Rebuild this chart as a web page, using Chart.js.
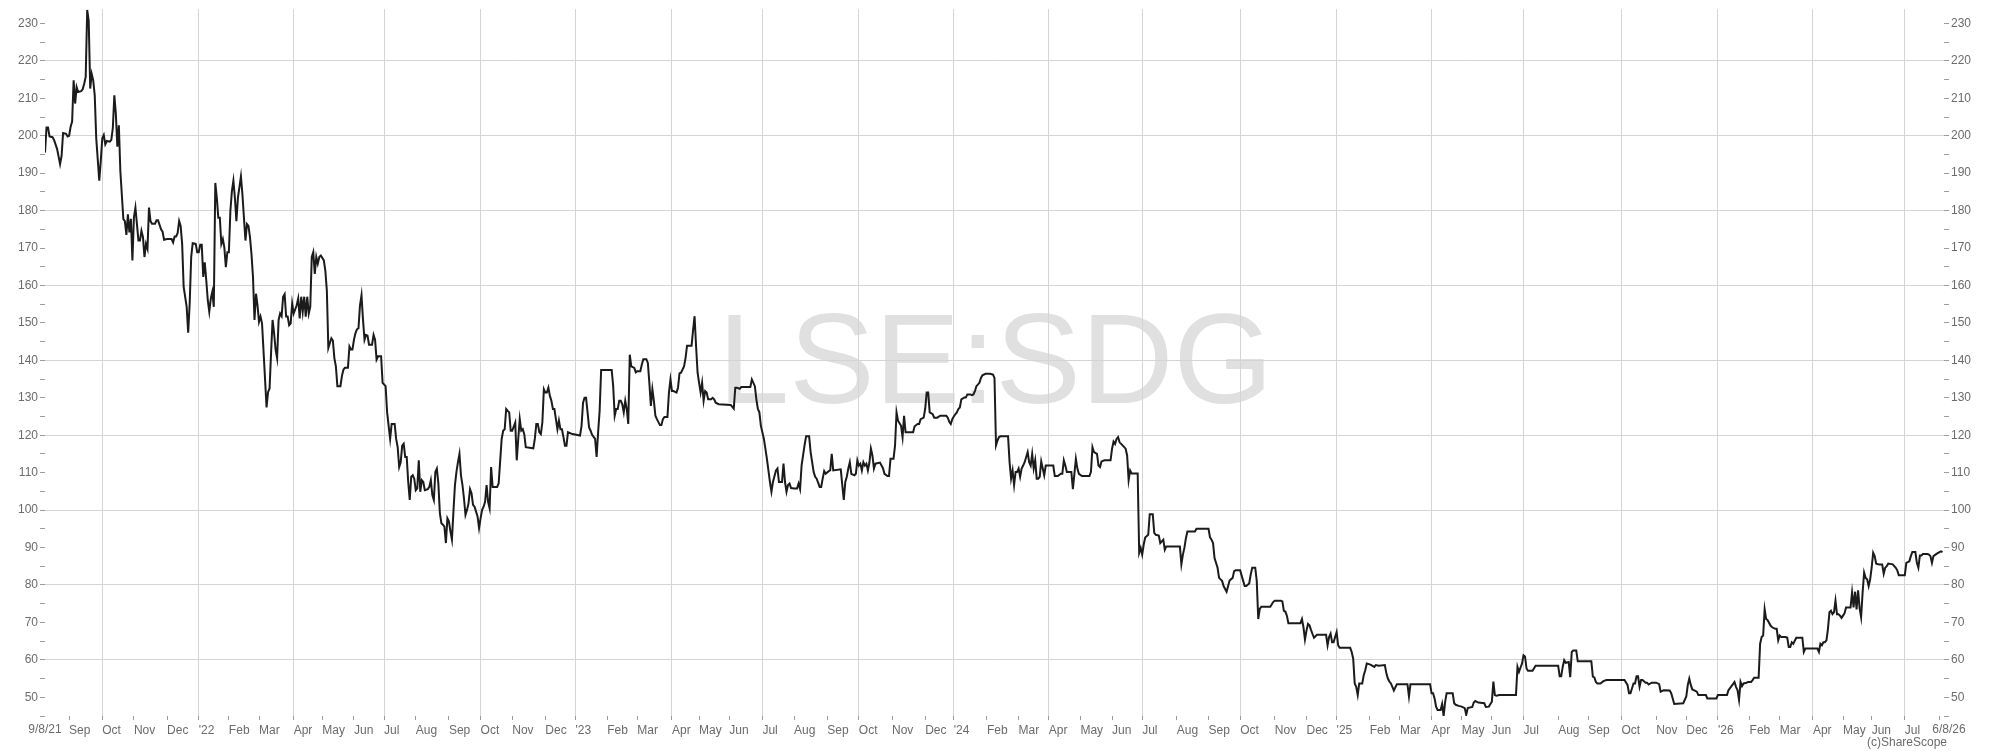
<!DOCTYPE html>
<html>
<head>
<meta charset="utf-8">
<script src="https://cdn.jsdelivr.net/npm/chart.js@4.4.0/dist/chart.umd.min.js"></script>
<style>
  html, body { margin: 0; padding: 0; background: #fff; }
  #wrap { width: 2000px; height: 751px; }
</style>
</head>
<body>
<div id="wrap"><canvas id="c" width="2000" height="751"></canvas></div>
<script>
  // first and last session on the chart
  var startDate = '2021-08-09';
  var endDate = '2026-08-06';
  var firstLabel = '9/8/21';
  var lastLabel = '6/8/26';
  var watermark = 'LSE:SDG';
  var credit = '(c)ShareScope';

  // LSE closed on these weekdays
  var holidays = [
    '2021-08-30', '2021-12-27', '2021-12-28',
    '2022-01-03', '2022-04-15', '2022-04-18', '2022-05-02', '2022-06-02', '2022-06-03', '2022-08-29', '2022-09-19', '2022-12-26', '2022-12-27',
    '2023-01-02', '2023-04-07', '2023-04-10', '2023-05-01', '2023-05-08', '2023-05-29', '2023-08-28', '2023-12-25', '2023-12-26',
    '2024-01-01', '2024-03-29', '2024-04-01', '2024-05-06', '2024-05-27', '2024-08-26', '2024-12-25', '2024-12-26',
    '2025-01-01', '2025-04-18', '2025-04-21', '2025-05-05', '2025-05-26', '2025-08-25', '2025-12-25', '2025-12-26',
    '2026-01-01', '2026-04-03', '2026-04-06', '2026-05-04', '2026-05-25'
  ];

  var monthNames = ['Jan', 'Feb', 'Mar', 'Apr', 'May', 'Jun', 'Jul', 'Aug', 'Sep', 'Oct', 'Nov', 'Dec'];

  // trading session number (0 = 9/8/21) of each turning point of the close line
  var sessionNo = [
    0, 1, 2, 3, 5, 6, 8, 9, 10, 11,
    12, 14, 15, 16, 17, 18, 19, 20, 21, 22,
    24, 25, 26, 27, 28, 29, 30, 31, 32, 33,
    34, 36, 37, 38, 39, 40, 41, 43, 44, 45,
    46, 47, 48, 49, 50, 52, 53, 54, 55, 56,
    57, 58, 59, 60, 61, 62, 63, 64, 65, 66,
    67, 68, 69, 70, 71, 73, 74, 75, 77, 78,
    79, 81, 84, 85, 86, 87, 88, 89, 90, 91,
    92, 94, 95, 96, 97, 98, 100, 101, 102, 103,
    104, 105, 106, 107, 108, 109, 110, 111, 112, 113,
    114, 115, 116, 117, 118, 119, 120, 121, 122, 123,
    124, 125, 126, 127, 128, 130, 131, 132, 133, 134,
    135, 136, 137, 138, 139, 140, 141, 142, 143, 144,
    146, 147, 148, 149, 150, 151, 152, 153, 154, 155,
    156, 157, 158, 159, 160, 161, 162, 163, 164, 165,
    167, 168, 169, 170, 171, 172, 173, 174, 175, 176,
    177, 178, 179, 180, 181, 182, 183, 185, 186, 187,
    188, 190, 191, 192, 193, 194, 196, 197, 198, 199,
    201, 202, 203, 204, 205, 206, 207, 208, 209, 210,
    211, 212, 213, 214, 215, 217, 218, 219, 220, 221,
    223,
    224, 226, 227, 229, 230, 232, 233, 234, 235, 236,
    237, 238, 239, 240, 241, 242, 243, 244, 245, 246,
    247, 248, 249, 250, 251, 252, 254, 255, 256, 257,
    258, 259, 260, 261, 262, 263, 264, 265, 266, 267,
    268, 269, 270, 271, 272, 273, 274, 275, 276, 277,
    278, 279, 280, 281, 282, 283, 284, 285, 286, 287,
    288, 289, 290, 291, 292, 293, 294, 295, 296, 297,
    300, 301, 303, 304, 305, 306, 307, 308, 309, 310,
    312, 313, 314, 315, 316, 317, 318, 319, 324, 325,
    326, 327, 328, 329, 330, 331, 332, 333, 334, 335,
    336, 337, 338, 339, 340, 341, 342, 343, 344, 345,
    346, 347, 350, 355, 356, 357, 358, 359, 360, 361,
    362, 363, 365, 366, 367, 368, 369, 376, 377, 378,
    379, 380, 381, 382, 383, 384, 385, 386, 387, 388,
    389, 391, 392, 393, 395, 396, 397, 399, 400, 401,
    402, 403, 404, 405, 406, 408, 409, 410, 411, 413,
    414, 415, 416, 417, 419, 420, 421, 422, 424, 425,
    426, 429, 430, 431, 432, 433, 434, 435, 436, 437,
    438, 439, 440, 442, 443, 444, 445, 447, 455, 457,
    458, 459, 461, 462, 468, 469, 471, 472, 473, 474,
    475, 477, 479, 481, 482, 483, 485, 486, 487, 489,
    490, 491, 492, 493, 494, 495, 497, 499, 500, 501,
    502, 504, 505, 507, 508, 510, 511, 512, 514, 515,
    516, 517, 518, 520, 521, 522, 523, 528, 529, 530,
    531, 532, 533, 534, 535, 537, 538, 539, 540, 541,
    542, 543, 544, 545, 546, 547, 548, 549, 550, 551,
    554, 556, 557, 559, 560, 561, 563, 564, 565, 566,
    568, 569, 570, 571, 576, 577, 579, 580, 581, 583,
    584, 585, 586, 587, 589, 590, 592, 594, 598, 599,
    600, 601, 602, 603, 604, 605, 606, 607, 608, 610,
    611, 612, 614, 615, 616, 617, 618, 620, 621, 622,
    624, 627, 629, 630, 631, 632, 633, 634, 639, 640,
    641, 642, 643, 644, 645, 646, 647, 648, 649, 650,
    652, 653, 654, 655, 656, 657, 658, 659, 660, 661,
    663, 664, 669, 670, 672, 674, 675, 676, 677, 678,
    681, 682, 684, 685, 686, 688, 693, 694, 695, 696,
    698, 699, 700, 701, 703, 707, 708, 709, 710, 711,
    712, 713,
    715, 717, 718, 719, 720, 721, 725, 726, 727, 728,
    729, 730, 732, 733, 735, 736, 737, 739, 740, 742,
    743, 744, 753, 754, 755, 756, 757, 758, 763, 764,
    772, 773, 774, 775, 776, 778, 779, 780, 781, 782,
    784, 785, 786, 788, 789, 790, 793, 795, 796, 797,
    799, 800, 801, 803, 804, 805, 806, 807, 813, 815,
    816, 820, 821, 822, 823, 824, 825, 833, 834, 835,
    836, 837, 838, 839, 840, 841, 842, 844, 850, 851,
    852, 853, 854, 855, 856, 857, 858, 859, 866, 867,
    868, 869, 870, 871, 872, 874, 875, 876, 877, 879,
    880, 882, 883, 885, 889, 890, 891, 892, 893, 894,
    895, 897, 904, 905, 906, 919, 920, 921, 922, 923,
    924, 926, 927, 928, 929, 930, 934, 935, 936, 938,
    940, 942, 943, 944, 947, 948, 949, 951, 955, 956,
    958, 960, 961, 962, 963, 965, 976, 977, 978, 980,
    981, 982, 983, 984, 987, 989, 1004,
    1005, 1006, 1007, 1008, 1009, 1011, 1012, 1013, 1014, 1016,
    1017, 1026, 1027, 1028, 1029, 1030, 1032, 1034, 1036, 1048,
    1050, 1051, 1052, 1053, 1054, 1055, 1056, 1057, 1058, 1059,
    1060, 1062, 1063, 1064, 1066, 1069, 1071, 1072, 1074, 1078,
    1079, 1080, 1081, 1087, 1089, 1090, 1091, 1092, 1093, 1094,
    1096, 1097, 1102, 1103, 1109, 1110, 1116, 1117, 1119, 1120,
    1121, 1122, 1123, 1124, 1125, 1126, 1127, 1129, 1130, 1132,
    1133, 1134, 1137, 1138, 1139, 1140, 1141, 1142, 1143, 1145,
    1146, 1148, 1149, 1150, 1151, 1152, 1155, 1156, 1157, 1158,
    1159, 1160, 1162, 1166, 1167, 1168, 1176, 1177, 1178, 1179,
    1180, 1181, 1182, 1183, 1184, 1185, 1186, 1187, 1188, 1189,
    1190, 1191, 1192, 1193, 1194, 1195, 1198, 1199, 1200, 1201,
    1202, 1203, 1204, 1205, 1206, 1207, 1208, 1209, 1210, 1211,
    1212, 1213, 1214, 1215, 1217, 1219, 1220, 1221, 1222, 1223,
    1226, 1228, 1229, 1230, 1234, 1235, 1237, 1238, 1239, 1241,
    1242, 1243, 1244, 1245, 1246, 1249, 1250, 1251, 1252, 1253,
    1255, 1257, 1258, 1259
  ];

  // close price (pence) at each of those sessions
  var closePrice = [
    195.5, 202.2, 202.2, 199.8, 199.6, 198.9, 196.5, 194.5, 192.4, 194.6,
    200.7, 200.5, 199.8, 200, 202.4, 203.8, 214.8, 208.6, 213, 211.7,
    211.9, 212.4, 213.9, 215.7, 233.6, 230.7, 212.6, 216.5, 214.8, 210.8,
    199.3, 188, 193.2, 199.3, 200.2, 197.7, 198.6, 198.4, 198.9, 202,
    210.8, 205.9, 197.1, 202.8, 190.5, 177.7, 177.2, 173.5, 179, 174.2,
    177.8, 166.7, 178.2, 180.8, 176.4, 172, 172, 174.6, 172.9, 167.6,
    171.1, 169.8, 180.8, 177.2, 176.5, 176.5, 177.4, 177.4, 175, 174.4,
    172.2, 172.4, 172.4, 171.5, 173.1, 173.1, 174, 177.2, 175.9, 171.1,
    159.6, 154.3, 147.4, 155.2, 167.6, 171.3, 171.1, 168.9, 168.9, 170.9,
    170.9, 162.3, 166.2, 161.4, 156.1, 153, 156.5, 158.3, 154.3, 187.4,
    183.4, 178.1, 178.1, 171.1, 172.4, 170.1, 164.9, 168.9, 168.9, 179.9,
    185.2, 188, 183.4, 177.2, 183.4, 189.1, 184.3, 178.1, 172, 176.4,
    175.9, 172.9, 168.4, 162.3, 150.8, 157.8, 154.7, 150.3, 151.7, 149.9,
    135, 127.4, 131.5, 132.5, 142, 150.8, 147.3, 142.9, 140.6, 150.8,
    152.5, 151.8, 157, 157.7, 151.7, 151.7, 149.4, 149.9, 155.2, 152.5,
    154.7, 156.5, 151.2, 157, 153, 157, 151.7, 157, 152.5, 154.3,
    167.6, 168.9, 163.1, 167.6, 165.8, 167.6, 168, 166.7, 164, 158.7,
    143.3, 145.9, 145.3, 140.6, 138.4, 133.1, 133.1, 135.8, 137.5, 138,
    138, 143.7, 142.9, 142.9, 145.5, 147.3, 148.3, 148.6, 154.7, 157.4,
    150.8, 145.5, 146.8, 146.6, 144.2, 144.2, 146.8, 145.5, 140.2, 141.1,
    141.1,
    134, 133.1, 126.1, 119, 123, 123, 119, 116.8, 111.5, 112.8,
    117.2, 117.7, 114.2, 114.2, 107.5, 102.7, 108.9, 109.3, 108.4, 105.3,
    105.8, 113.3, 104.9, 108, 107.5, 105.3, 105.6, 106.2, 108, 104,
    102.7, 110.2, 111.1, 107.1, 99.2, 96.5, 96.1, 95.6, 91.2, 97.8,
    97, 94.3, 92.1, 99.6, 106.7, 110.2, 112.8, 115, 109.3, 106.7,
    103.1, 98.7, 100, 101.8, 105.6, 104.5, 101.4, 100.9, 99.6, 98.3,
    95.2, 97.8, 100, 100.9, 102.2, 106.7, 102.2, 100.5, 111.5, 106.2,
    106.2, 107.1, 119, 121.2, 121.6, 127, 126.5, 126.1, 121.2, 121.2,
    123.4, 113.3, 119, 124.3, 121.2, 121.6, 120.3, 116.8, 116.5, 119,
    123, 123, 120.8, 120.3, 123.4, 132.3, 131.4, 131.4, 132.7, 130.5,
    129.2, 127, 127, 124.3, 121.6, 123.9, 121.6, 121.6, 119.5, 117.2,
    117.2, 120.8, 120.3, 119.9, 122.5, 128.7, 130, 130, 126.1, 122.1,
    121.2, 120.1, 119, 114.2, 120.8, 126.5, 137.4, 137.4, 133.1, 125.2,
    127, 127, 129.2, 129.2, 128.3, 126.1, 129.2, 127, 123, 141.5,
    138.4, 138, 136.8, 137.1, 137.1, 138.9, 140.3, 140.3, 139.3, 134,
    127.8, 132.3, 129.2, 125.2, 124.3, 122.7, 122.7, 124.3, 124.9, 124.9,
    131.4, 134.9, 131.8, 131.8, 131.4, 132.7, 136.5, 136.7, 138.4, 140.6,
    143.9, 143.9, 148.1, 151.8, 143.7, 136.7, 134, 131.4, 134, 129.2,
    131.8, 131.4, 129.6, 129.6, 130, 129.6, 128.7, 128.3, 128.1, 127.1,
    132.7, 132.7, 132.4, 132.9, 132.9, 134.9, 133.1, 129.6, 127, 126.1,
    122.5, 119, 113.7, 107.5, 104.9, 107.5, 110.6, 111.1, 107.5, 107.5,
    112.4, 107.5, 104.9, 106.7, 107.1, 105.9, 105.8, 105.8, 107.1, 105.6,
    111.9, 117.4, 119.7, 119.7, 115.5, 110.2, 108.9, 108.4, 106.2, 106.2,
    108.4, 110.4, 109.7, 110.4, 110.6, 115, 110.6, 110.9, 106.7, 102.7,
    107.5, 108.9, 111.1, 112.8, 109.7, 109.3, 109.7, 113.3, 111.9, 112.4,
    110.6, 112.8, 111.9, 112.4, 110.6, 112.7, 116.4, 114.6, 111.1, 112.4,
    112.7, 111.2, 109.7, 109.1, 109.1, 113.7, 113.7, 117.2, 126.1, 123.9,
    122.5, 119.5, 125.2, 120.8, 120.8, 122.4, 123, 123, 124.3, 124.7,
    127, 131.4, 131.4, 126.1, 125.6, 124.7, 124.7, 125.2, 125.2, 124.7,
    123.6, 123, 124.3, 125, 125.6, 126.1, 127, 127.4, 129.6, 130.1,
    130.1, 130.9, 130.9, 130.7, 130.9, 131.8, 133.1, 134, 135.3, 136,
    136.4, 136.4, 136.2, 135.3, 117.3, 118.6, 119.5, 119.7, 119.7, 112.8,
    108.4, 110.6, 106.7, 110.2, 110.2, 111.1, 108.9, 111.1, 111.9, 112.8,
    115.5, 112.8, 111.9, 115, 111.1, 113.3, 108.4, 108.4, 108.9, 113,
    109.3, 111.9, 111.9, 109.1, 109.1, 109.7, 109.7, 113.3, 111.9, 110.2,
    110.2, 105.6, 113.7, 111.1, 109.7, 109.1, 109.1, 110.2, 116.8, 115.5,
    115, 111.9, 111.5, 113, 113.3, 113.3, 116.4, 118.3, 117.7, 119,
    119.5, 118.1,
    117.3, 116.4, 114.6, 108, 110.6, 109.8, 109.8, 88.6, 89.9, 88.1,
    90.8, 92.7, 93.4, 98.9, 98.9, 93.9, 93.4, 93.2, 91.2, 92.1,
    89.4, 90.3, 90.3, 85.5, 88.1, 89.9, 92.5, 94.3, 94.3, 95,
    95, 92.7, 92.1, 91.2, 87.2, 84.6, 81.9, 81.5, 81.1, 79.7,
    78.2, 79.7, 81.2, 81.9, 83.7, 83.9, 83.9, 81.1, 79.7, 79.7,
    80.4, 82.8, 84.6, 84.6, 81.1, 70.9, 73.6, 74.2, 74.2, 75.5,
    75.8, 75.8, 75.6, 73.1, 72.9, 71.8, 69.8, 69.8, 70.9, 68.7,
    65.4, 67.8, 69.6, 69.2, 68, 66.9, 65.9, 66.7, 66.7, 63.9,
    66.1, 67, 64.7, 64.7, 66.1, 67.4, 63.9, 63.2, 63.2, 62.1,
    60.3, 53.7, 52.8, 50.6, 53.7, 53.7, 55.9, 57.2, 59, 58.8,
    58.6, 58.1, 58.6, 58.4, 58.6, 56.4, 55, 54.2, 53.7, 52.8,
    51.8, 53.5, 53.5, 50.2, 53.5, 53.5, 51.1, 51.1, 49.7, 47.5,
    46.6, 46.6, 48.2, 45, 48.8, 51.1, 51.1, 48.4, 48, 47.7,
    47.5, 47.1, 45.3, 47.1, 47.4, 48.6, 49, 48.6, 48.4, 47.4,
    47.5, 48.8, 54.2, 50.6, 50.4, 50.6, 50.6, 58.1, 56.8, 59,
    61.2, 60.9, 57.7, 57.1, 57.1, 58.4, 58.4,
    55.6, 55.6, 58.1, 59.9, 59.2, 59.4, 55.4, 62.1, 62.5, 62.5,
    59.6, 59.6, 55.5, 55.3, 54.1, 53.7, 53.7, 54.3, 54.6, 54.6,
    53.3, 51.1, 51.1, 52.4, 53.7, 53.7, 55.6, 55.6, 52.8, 54.6,
    54.6, 53.9, 53.9, 53.4, 53.9, 53.9, 53.5, 51.5, 51.9, 51.8,
    51.1, 49.7, 48.2, 48.4, 50.2, 53.3, 55, 53.3, 52.1, 51.9,
    51.5, 50.6, 50.6, 49.7, 49.7, 50.6, 50.6, 51.9, 53, 53.5,
    54.1, 52.8, 51.9, 49.3, 54.1, 53, 53.7, 53.9, 54.1, 54.1,
    54.6, 55.2, 55.2, 64.3, 66.1, 66.5, 73.5, 70.9, 70.6, 69.1,
    68.7, 68.3, 68.3, 65.2, 66.5, 66.1, 66.1, 65.9, 63.4, 63.4,
    64.7, 64.3, 65.9, 65.9, 62.1, 63, 63, 62.1, 64.3, 63.9,
    64.7, 64.7, 65.2, 68.3, 72.7, 73.1, 72.2, 72.7, 75.8, 72.2,
    72.2, 71.8, 71.2, 71.8, 72.4, 74, 74, 78, 74, 78.2,
    73.5, 78.6, 73.8, 71.4, 78, 83.3, 81.9, 81.5, 79.7, 81.5,
    84.6, 88.6, 87.7, 85.7, 85.5, 85.5, 83, 84.6, 85, 85.7,
    85.5, 84.6, 83.9, 82.6, 82.6, 85.9, 86.3, 87.7, 88.8, 88.8,
    85.9, 84.6, 87.9, 87.9, 88.3, 88.3, 88.1, 87.7, 85.9, 87.7,
    88.3, 88.8, 89, 88.8
  ];

  // price axis: ticks every 5p, labels every 10p, grid every 20p
  var priceMin = 45;
  var priceMax = 233.8;
  var priceTicks = [];
  for (var p = 45; p <= 230; p += 5) priceTicks.push(p);

  // build the trading calendar so month ticks land on the first session of each month
  var sessions = [];
  var d = new Date(startDate + 'T00:00:00Z');
  var end = new Date(endDate + 'T00:00:00Z');
  while (d <= end) {
    var iso = d.toISOString().slice(0, 10);
    var wd = d.getUTCDay();
    if (wd !== 0 && wd !== 6 && holidays.indexOf(iso) < 0) sessions.push(new Date(d.getTime()));
    d.setUTCDate(d.getUTCDate() + 1);
  }
  var lastSession = sessions.length - 1;

  var monthTicks = [{ value: 0, label: '', quarter: false }];
  for (var i = 1; i < sessions.length; i++) {
    var m = sessions[i].getUTCMonth();
    if (m !== sessions[i - 1].getUTCMonth()) {
      var lbl = m === 0 ? "'" + String(sessions[i].getUTCFullYear()).slice(2) : monthNames[m];
      // a month starting in the last few sessions would collide with the end date label
      if (lastSession - i < 10) lbl = '';
      monthTicks.push({ value: i, label: lbl, quarter: m % 3 === 0 });
    }
  }

  var points = sessionNo.map(function (s, k) { return { x: s, y: closePrice[k] }; });

  var textGrey = '#6b6b6b';
  var gridGrey = '#d4d4d4';
  var tickGrey = '#9c9c9c';
  var fontFamily = "'Liberation Sans', Arial, sans-serif";

  var priceAxis = function (side) {
    return {
      position: side,
      min: priceMin,
      max: priceMax,
      afterBuildTicks: function (s) {
        s.ticks = priceTicks.map(function (v) { return { value: v }; });
      },
      afterFit: function (s) { s.width = side === 'left' ? 45 : 56; },
      border: { display: false },
      grid: {
        drawOnChartArea: side === 'left',
        color: function (ctx) {
          var v = ctx.tick && ctx.tick.value;
          return (v % 20 === 0 && v >= 60) ? gridGrey : 'rgba(0,0,0,0)';
        },
        tickColor: tickGrey,
        tickLength: 5,
        lineWidth: 1
      },
      ticks: {
        autoSkip: false,
        padding: 2,
        color: textGrey,
        font: { family: fontFamily, size: 12 },
        callback: function (v) { return v % 10 === 0 ? String(v) : ''; }
      }
    };
  };

  var extras = {
    id: 'extras',
    // watermark sits under the grid
    beforeDraw: function (chart) {
      var ctx = chart.ctx, a = chart.chartArea;
      ctx.save();
      ctx.font = '128px ' + fontFamily;
      ctx.fillStyle = '#e0e0e0';
      ctx.textAlign = 'center';
      ctx.textBaseline = 'alphabetic';
      ctx.fillText(watermark, (a.left + a.right) / 2 + 1, a.top + 394);
      ctx.restore();
    },
    afterDraw: function (chart) {
      var ctx = chart.ctx, x = chart.scales.x;
      var ly = x.top + 4 + 3 + 7;
      ctx.save();
      ctx.font = '12px ' + fontFamily;
      ctx.fillStyle = textGrey;
      ctx.textBaseline = 'middle';
      ctx.textAlign = 'center';
      ctx.fillText(firstLabel, x.getPixelForValue(0), ly);
      ctx.fillText(lastLabel, x.getPixelForValue(lastSession) + 5, ly);
      ctx.textAlign = 'right';
      ctx.fillText(credit, x.right + 3, ly + 13);
      ctx.restore();
    }
  };

  new Chart(document.getElementById('c'), {
    type: 'line',
    data: {
      datasets: [{
        data: points,
        borderColor: '#1b1b1b',
        borderWidth: 2,
        pointRadius: 0,
        tension: 0,
        fill: false
      }]
    },
    options: {
      responsive: false,
      animation: false,
      devicePixelRatio: 1,
      layout: { padding: { top: 3, left: 0, right: 0, bottom: 0 } },
      plugins: { legend: { display: false }, tooltip: { enabled: false } },
      scales: {
        x: {
          type: 'linear',
          min: 0,
          max: lastSession,
          afterBuildTicks: function (s) {
            s.ticks = monthTicks.map(function (t) { return { value: t.value }; });
          },
          afterFit: function (s) { s.height = 35; },
          border: { display: false },
          grid: {
            color: function (ctx) {
              var t = monthTicks[ctx.index];
              return t && t.quarter ? gridGrey : 'rgba(0,0,0,0)';
            },
            tickColor: function (ctx) {
              return ctx.index === 0 ? 'rgba(0,0,0,0)' : tickGrey;
            },
            tickLength: 4,
            lineWidth: 1
          },
          ticks: {
            autoSkip: false,
            maxRotation: 0,
            minRotation: 0,
            align: 'start',
            padding: 3,
            color: textGrey,
            font: { family: fontFamily, size: 12 },
            callback: function (v, idx) {
              var t = monthTicks[idx];
              return t ? t.label : '';
            }
          }
        },
        y: priceAxis('left'),
        y2: priceAxis('right')
      }
    },
    plugins: [extras]
  });
</script>
</body>
</html>
